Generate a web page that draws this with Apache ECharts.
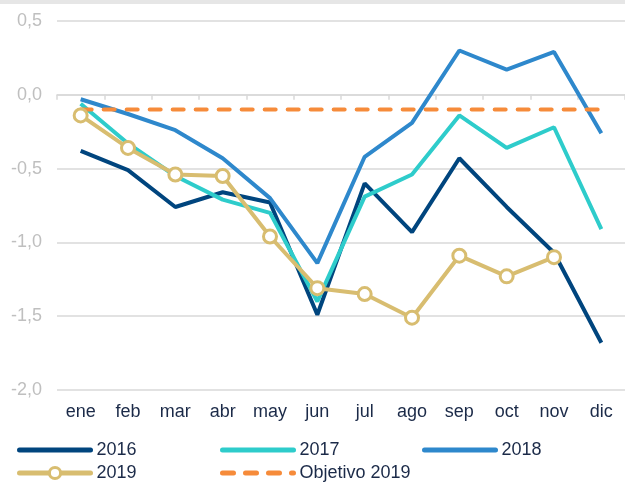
<!DOCTYPE html>
<html><head><meta charset="utf-8">
<script src="https://cdn.jsdelivr.net/npm/echarts@6/dist/echarts.min.js"></script>
<style>html,body{margin:0;padding:0;background:#fff;}#bar{height:4px;background:#e6e6e6;width:625px;position:absolute;top:0;left:0;}#c{width:625px;height:486px;}</style>
</head><body><div id="c"></div><div id="bar"></div>
<script>
const months = ['ene','feb','mar','abr','may','jun','jul','ago','sep','oct','nov','dic'];
const s2016 = [-0.38,-0.51,-0.76,-0.66,-0.73,-1.49,-0.60,-0.93,-0.43,-0.76,-1.07,-1.68];
const s2017 = [-0.06,-0.33,-0.55,-0.71,-0.80,-1.40,-0.69,-0.54,-0.14,-0.36,-0.22,-0.91];
const s2018 = [-0.03,-0.13,-0.24,-0.43,-0.70,-1.14,-0.42,-0.19,0.30,0.17,0.29,-0.26];
const s2019 = [-0.14,-0.36,-0.54,-0.55,-0.96,-1.31,-1.35,-1.51,-1.09,-1.23,-1.10,null];
const objetivo = [-0.1,-0.1,-0.1,-0.1,-0.1,-0.1,-0.1,-0.1,-0.1,-0.1,-0.1,-0.1];

const chart = echarts.init(document.getElementById('c'));
const font = 'Liberation Sans, Arial, sans-serif';
const txt = '#1b2a48';
function lg(name, left, top, sym){
  return {data:[name], left:left, top:top, padding:0, itemWidth:71, itemHeight:14, itemGap:0,
    itemStyle: sym ? {color:'#ffffff', borderColor:'#d8bd70', borderWidth:3} : {opacity:0},
    lineStyle:{width:5, cap:'round'},
    textStyle:{color:txt, fontSize:18, fontFamily:font, padding:[0,0,0,1]}};
}
chart.setOption({
  animation:false,
  grid:{left:57, right:-2, top:21, bottom:96},
  legend:[lg('2016',17,441), lg('2017',220,441), lg('2018',422,441), lg('2019',17,464,true), lg('Objetivo 2019',220,464)],
  xAxis:[
    {type:'category', data:months, boundaryGap:true,
     axisLine:{show:true, onZero:true, lineStyle:{color:'#d9d9d9', width:1.5}},
     axisTick:{show:true, length:5, lineStyle:{color:'#d9d9d9', width:1.5}},
     axisLabel:{show:false}},
    {type:'category', data:months, boundaryGap:true, position:'bottom',
     axisLine:{show:false, onZero:false}, axisTick:{show:false},
     axisLabel:{color:txt, fontSize:18, fontFamily:font, margin:13}}
  ],
  yAxis:{type:'value', min:-2, max:0.5, interval:0.5,
    axisLine:{show:false}, axisTick:{show:false},
    splitLine:{lineStyle:{color:'#d9d9d9', width:1.5}},
    axisLabel:{color:'#bfbfbf', fontSize:18, fontFamily:font, margin:15,
      formatter:v=>v.toFixed(1).replace('.',',')}},
  series:[
    {name:'2016', type:'line', data:s2016, symbol:'none', color:'#00457e', lineStyle:{width:4, color:'#00457e'}},
    {name:'2017', type:'line', data:s2017, symbol:'none', color:'#2ecccb', lineStyle:{width:4, color:'#2ecccb'}},
    {name:'2018', type:'line', data:s2018, symbol:'none', color:'#2e88cc', lineStyle:{width:4, color:'#2e88cc'}},
    {name:'Objetivo 2019', type:'line', data:objetivo, symbol:'none', color:'#f68b3a', z:3,
      lineStyle:{width:4, color:'#f68b3a', type:[11,12], cap:'round'}},
    {name:'2019', type:'line', data:s2019, symbol:'circle', symbolSize:13, showSymbol:true, color:'#d8bd70', z:4,
      itemStyle:{color:'#ffffff', borderColor:'#d8bd70', borderWidth:3},
      lineStyle:{width:4, color:'#d8bd70'}}
  ]
});
</script></body></html>
